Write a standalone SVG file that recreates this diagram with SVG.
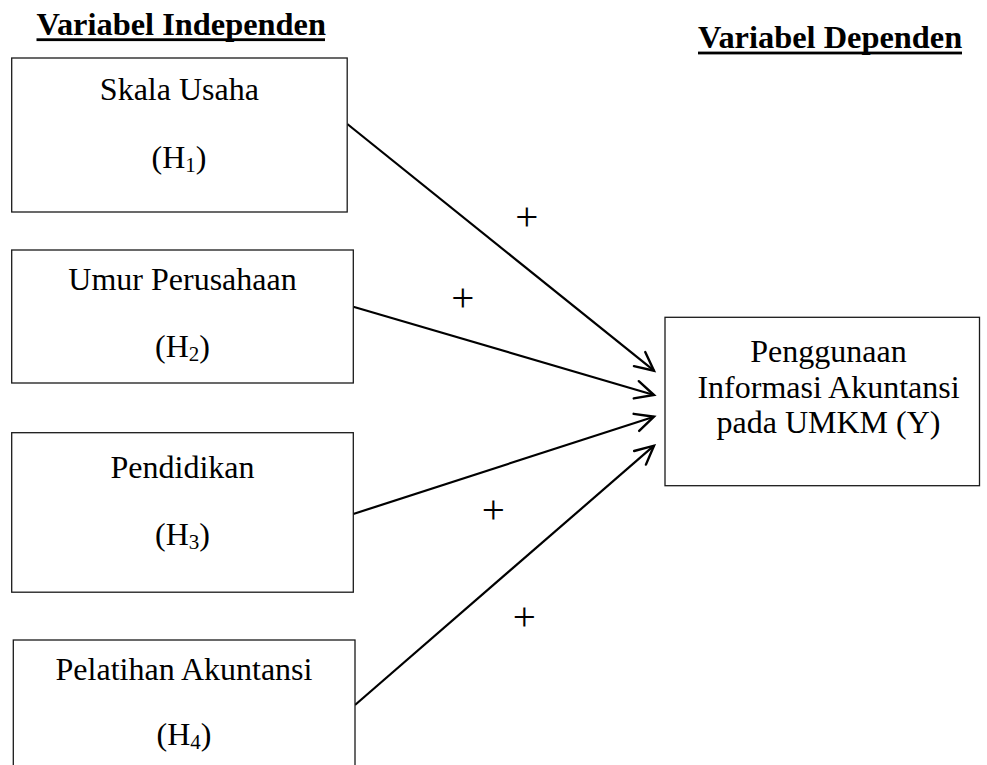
<svg xmlns="http://www.w3.org/2000/svg" width="987" height="765" viewBox="0 0 987 765">
  <defs>
    <style>
      .box { fill: #fff; stroke: #1a1a1a; stroke-width: 1.3; }
      .t { font-family: "Liberation Serif", "Times New Roman", serif; font-size: 32px; fill: #000; text-anchor: middle; }
      .title { font-family: "Liberation Serif", "Times New Roman", serif; font-size: 32.4px; font-weight: bold; fill: #000; }
      .plus { font-family: "Liberation Serif", "Times New Roman", serif; font-size: 41px; fill: #000; text-anchor: middle; }
      .edge { fill: none; stroke: #000; stroke-width: 2.2; marker-end: url(#arr); }
      .sub { font-size: 21px; }
    </style>
    <marker id="arr" markerUnits="userSpaceOnUse" markerWidth="30" markerHeight="30" viewBox="-22 -15 30 30" refX="0" refY="0" orient="auto" overflow="visible">
      <path d="M -18.5 -9 L 0 0 L -18.5 9" fill="none" stroke="#000" stroke-width="2.4" stroke-linecap="round" stroke-linejoin="miter"/>
    </marker>
  </defs>
  <rect width="987" height="765" fill="#fff"/>

  <g id="title-independen">
    <text class="title" x="36.5" y="35">Variabel Independen</text>
    <rect x="36.5" y="38.3" width="288.5" height="2.8" fill="#000"/>
  </g>
  <g id="title-dependen">
    <text class="title" x="698" y="48.3">Variabel Dependen</text>
    <rect x="698" y="51.6" width="264" height="2.8" fill="#000"/>
  </g>

  <g id="connectors">
    <line class="edge" x1="347.3" y1="124" x2="654" y2="370.7"/>
    <line class="edge" x1="353.3" y1="306.7" x2="654" y2="395"/>
    <line class="edge" x1="353.3" y1="514" x2="654" y2="416.7"/>
    <line class="edge" x1="355" y1="705" x2="654" y2="445.7"/>
    <text class="plus" x="526.7" y="229.7">+</text>
    <text class="plus" x="462.7" y="311.4">+</text>
    <text class="plus" x="493.3" y="523.1">+</text>
    <text class="plus" x="524.3" y="630.4">+</text>
  </g>

  <g id="h1">
    <rect class="box" x="11.7" y="58" width="335.5" height="154"/>
    <text class="t" x="179.4" y="100">Skala Usaha</text>
    <text class="t" x="179" y="168">(H<tspan class="sub" dy="3.5">1</tspan><tspan dy="-3.5">)</tspan></text>
  </g>

  <g id="h2">
    <rect class="box" x="11.7" y="250" width="341.6" height="133"/>
    <text class="t" x="182.5" y="290">Umur Perusahaan</text>
    <text class="t" x="182.5" y="357">(H<tspan class="sub" dy="3.5">2</tspan><tspan dy="-3.5">)</tspan></text>
  </g>

  <g id="h3">
    <rect class="box" x="11.7" y="432.7" width="341.6" height="159.5"/>
    <text class="t" x="182.5" y="478">Pendidikan</text>
    <text class="t" x="182.5" y="545">(H<tspan class="sub" dy="3.5">3</tspan><tspan dy="-3.5">)</tspan></text>
  </g>

  <g id="h4">
    <rect class="box" x="13.3" y="640" width="341.7" height="140"/>
    <text class="t" x="184" y="680">Pelatihan Akuntansi</text>
    <text class="t" x="184" y="745">(H<tspan class="sub" dy="3.5">4</tspan><tspan dy="-3.5">)</tspan></text>
  </g>

  <g id="y">
    <rect class="box" x="665" y="317.3" width="314.5" height="168.4"/>
    <text class="t" x="828.5" y="361.7">Penggunaan</text>
    <text class="t" x="828.5" y="397.5">Informasi Akuntansi</text>
    <text class="t" x="828.5" y="433">pada UMKM (Y)</text>
  </g>
</svg>
